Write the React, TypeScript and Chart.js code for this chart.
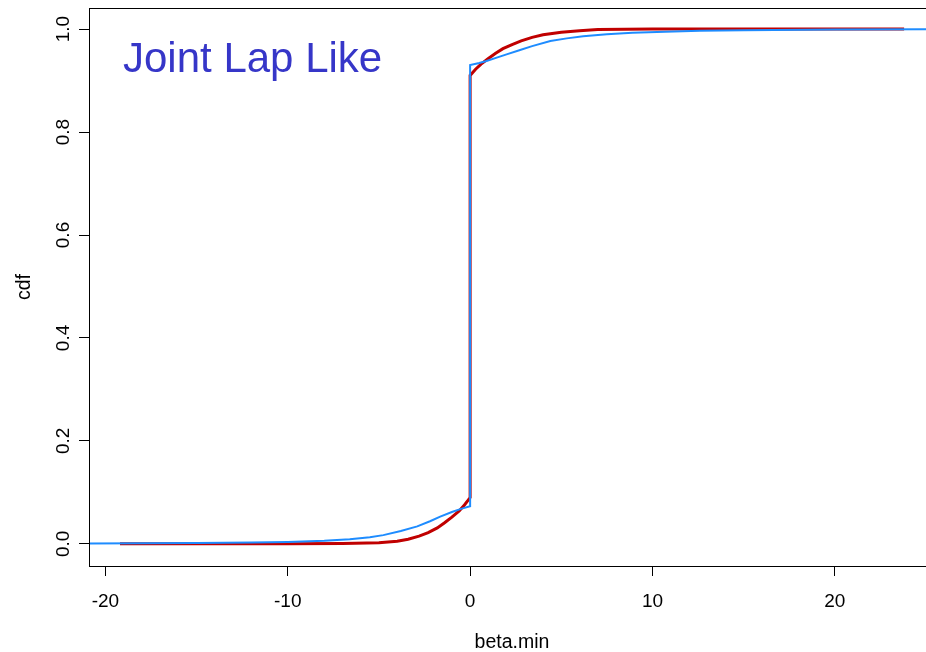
import React, { useEffect, useRef } from "react";
import { Chart, registerables } from "chart.js";

Chart.register(...registerables);

// ---- data ----
const redX = [-19.2, -15, -10, -7, -5, -4, -3.4, -2.8, -2.3, -1.8, -1.4, -1.0, -0.6, -0.3, 0, 0, 0.3, 0.6, 1.0, 1.4, 1.8, 2.3, 2.8, 3.4, 4, 5, 6, 7, 10, 15, 23.8];
const redY = [0.0, 0.0, 0.0002, 0.0006, 0.002, 0.005, 0.009, 0.015, 0.022, 0.031, 0.041, 0.052, 0.064, 0.076, 0.09, 0.91, 0.922, 0.932, 0.943, 0.953, 0.962, 0.970, 0.977, 0.984, 0.989, 0.994, 0.997, 0.999, 1.0, 1.0, 1.0];

const blueX = [-21, -18, -15, -12, -10, -8, -6.6, -5.5, -4.76, -3.8, -2.9, -2.2, -1.64, -1.0, -0.5, 0, 0, 0.5, 0.9, 1.5, 2.0, 2.7, 3.4, 4.4, 5.3, 6.2, 7.5, 8.9, 10.7, 12.6, 15, 20, 25.5];
const blueY = [0.0005, 0.001, 0.0015, 0.0025, 0.0035, 0.006, 0.009, 0.013, 0.017, 0.025, 0.034, 0.044, 0.053, 0.062, 0.068, 0.073, 0.93, 0.934, 0.938, 0.945, 0.951, 0.959, 0.967, 0.977, 0.982, 0.986, 0.99, 0.993, 0.995, 0.997, 0.998, 0.999, 1.0];

const xTicks = [-20, -10, 0, 10, 20];
const yTicks = [0, 0.2, 0.4, 0.6, 0.8, 1.0];
const yTickLabels = ["0.0", "0.2", "0.4", "0.6", "0.8", "1.0"];
const xLabel = "beta.min";
const yLabel = "cdf";
const titleText = "Joint Lap Like";

const FONT = '"Liberation Sans", Arial, Helvetica, sans-serif';

const boxPlugin = {
  id: "rbox",
  afterDraw(chart: any) {
    const { ctx, chartArea } = chart;
    const { left, top, right, bottom } = chartArea;
    const xs = chart.scales.x;
    const ys = chart.scales.y;
    ctx.save();
    ctx.strokeStyle = "#000";
    ctx.lineWidth = 1;
    ctx.strokeRect(Math.round(left) + 0.5, Math.round(top) + 0.5, right - left + 10, Math.round(bottom - top));

    ctx.fillStyle = "#000";
    ctx.font = `19px ${FONT}`;
    ctx.textAlign = "center";
    ctx.textBaseline = "alphabetic";
    xTicks.forEach((v) => {
      ctx.fillText(String(v), xs.getPixelForValue(v), 607);
    });
    yTicks.forEach((v, i) => {
      ctx.save();
      ctx.translate(69, ys.getPixelForValue(v));
      ctx.rotate(-Math.PI / 2);
      ctx.fillText(yTickLabels[i], 0, 0);
      ctx.restore();
    });

    ctx.font = `19.5px ${FONT}`;
    ctx.fillText(xLabel, 512, 648);
    ctx.save();
    ctx.translate(30, 287);
    ctx.rotate(-Math.PI / 2);
    ctx.fillText(yLabel, 0, 0);
    ctx.restore();

    ctx.font = `42px ${FONT}`;
    ctx.fillStyle = "#3636C8";
    ctx.textAlign = "left";
    ctx.fillText(titleText, 123, 72);
    ctx.restore();
  },
};

export default function App() {
  const ref = useRef<HTMLCanvasElement | null>(null);
  useEffect(() => {
    if (!ref.current) return;
    const chart = new Chart(ref.current, {
      type: "scatter",
      data: {
        datasets: [
          {
            label: "blue",
            data: blueX.map((x, i) => ({ x, y: blueY[i] })),
            showLine: true,
            borderColor: "#1E8CFF",
            borderWidth: 2,
            pointRadius: 0,
            tension: 0,
          },
          {
            label: "red",
            data: redX.map((x, i) => ({ x, y: redY[i] })),
            showLine: true,
            borderColor: "#C00000",
            borderWidth: 3,
            pointRadius: 0,
            tension: 0,
          },
        ],
      },
      options: {
        responsive: false,
        animation: false,
        events: [],
        layout: { padding: { top: 8, left: 0, right: 0, bottom: 0 } },
        plugins: { legend: { display: false }, tooltip: { enabled: false } },
        scales: {
          x: {
            type: "linear",
            min: -20.9,
            max: 25.0,
            afterBuildTicks: (s: any) => {
              s.ticks = xTicks.map((v) => ({ value: v }));
            },
            afterFit: (s: any) => {
              s.height = 86;
            },
            grid: { drawOnChartArea: false, drawTicks: true, tickLength: 10, color: "#000", lineWidth: 1 },
            border: { display: true, color: "#000", width: 1 },
            ticks: { display: false },
          },
          y: {
            type: "linear",
            min: -0.043,
            max: 1.041,
            afterBuildTicks: (s: any) => {
              s.ticks = yTicks.map((v) => ({ value: v }));
            },
            afterFit: (s: any) => {
              s.width = 89;
            },
            grid: { drawOnChartArea: false, drawTicks: true, tickLength: 10, color: "#000", lineWidth: 1 },
            border: { display: true, color: "#000", width: 1 },
            ticks: { display: false },
          },
        },
      },
      plugins: [boxPlugin],
    });
    return () => chart.destroy();
  }, []);
  return (
    <div style={{ position: "fixed", left: 0, top: 0, width: 926, height: 652, background: "#fff" }}>
      <canvas ref={ref} width={926} height={652} style={{ display: "block" }} />
    </div>
  );
}
